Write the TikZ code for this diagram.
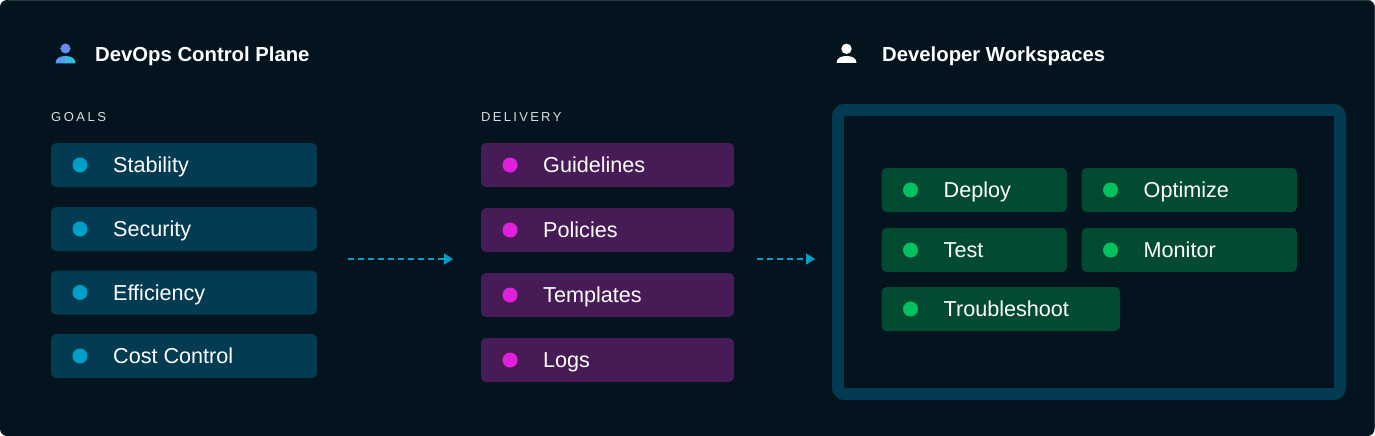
\documentclass[tikz,border=0pt]{standalone}
\usepackage{fontspec}
\setmainfont{Liberation Sans}
\usetikzlibrary{arrows.meta,calc}
\definecolor{panel}{HTML}{03141F}
\definecolor{panelline}{HTML}{2A3A45}
\definecolor{tealbox}{HTML}{033B52}
\definecolor{tealdot}{HTML}{009FC7}
\definecolor{purplebox}{HTML}{471C56}
\definecolor{purpledot}{HTML}{E020DC}
\definecolor{greenbox}{HTML}{034A33}
\definecolor{greendot}{HTML}{00C35F}
\definecolor{iconhead}{HTML}{6F86F2}
\definecolor{iconblue}{HTML}{4F9CF0}
\definecolor{iconteal}{HTML}{38BCE0}
\definecolor{labelgrey}{HTML}{D8DEE2}
\tikzset{
  x=1pt,y=-1pt,
  chipbox/.style={rounded corners=5pt,inner sep=0pt,outer sep=0pt,anchor=north west},
  chiptext/.style={anchor=base west,text=white,inner sep=0pt,font=\fontsize{21.6}{24}\selectfont},
  chipdot/.style={circle,inner sep=0pt,minimum size=15pt},
  heading/.style={anchor=base west,text=white,inner sep=0pt,font=\fontsize{20.3}{24}\selectfont\bfseries},
  smalllabel/.style={anchor=base west,text=labelgrey,inner sep=0pt,font=\fontsize{13}{16}\selectfont},
  flow/.style={draw=tealdot,line width=1.5pt,dash pattern=on 6pt off 4pt,-{Triangle[length=9pt,width=11pt,fill=tealdot]}}
}
% #1 name, #2 x, #3 y, #4 w, #5 colour, #6 text
\newcommand{\chipitem}[6]{%
  \node[chipbox,fill=#5box,minimum width=#4pt,minimum height=44pt] (#1) at (#2,#3) {};
  \node[chipdot,fill=#5dot] (#1dot) at ($(#1.west)+(29,0)$) {};
  \node[chiptext] (#1text) at ($(#1.west)+(62,7.5)$) {#6};
}
\begin{document}
\begin{tikzpicture}
\useasboundingbox (0,0) rectangle (1375,436);
\fill[white] (0,0) rectangle (1375,436);
\fill[panel,rounded corners=7pt] (0,0) rectangle (1374.5,436);
\draw[panelline,line width=1pt,rounded corners=7pt] (8,0.5) -- (1374.5,0.5) -- (1374.5,428);

% left icon
\shade[top color=iconhead,bottom color=iconblue!70!iconhead] (65.5,48.5) circle (5pt);
\fill[iconblue] (55.5,63.5) .. controls (55.5,58) and (60,56) .. (65.5,56) -- (65.5,63.5) -- cycle;
\fill[iconteal] (75.5,63.5) .. controls (75.5,58) and (71,56) .. (65.2,56) -- (65.2,63.5) -- cycle;
\node[heading] (lefthead) at (95,62) {DevOps Control Plane};

% right icon
\fill[white] (846.5,48.8) circle (5.2pt);
\fill[white] (836.5,63) .. controls (836.5,58) and (841,56) .. (846.5,56) .. controls (852,56) and (856.5,58) .. (856.5,63) -- cycle;
\node[heading] (righthead) at (882,62) {Developer Workspaces};

\node[smalllabel] (goalslabel) at (51,121) {G\hspace{2.5pt}O\hspace{2.5pt}A\hspace{2.5pt}L\hspace{2.5pt}S};
\node[smalllabel] (deliverylabel) at (481,121) {D\hspace{2.3pt}E\hspace{2.3pt}L\hspace{2.3pt}I\hspace{2.3pt}V\hspace{2.3pt}E\hspace{2.3pt}R\hspace{2.3pt}Y};

\chipitem{stability}{51}{143}{266}{teal}{Stability}
\chipitem{security}{51}{207}{266}{teal}{Security}
\chipitem{efficiency}{51}{270.5}{266}{teal}{Efficiency}
\chipitem{cost}{51}{334}{266}{teal}{Cost Control}

\chipitem{guidelines}{481}{143}{253}{purple}{Guidelines}
\chipitem{policies}{481}{208}{253}{purple}{Policies}
\chipitem{templates}{481}{273}{253}{purple}{Templates}
\chipitem{logs}{481}{338}{253}{purple}{Logs}

\node[chipbox,draw=tealbox,line width=12pt,rounded corners=6.5pt,minimum width=502pt,minimum height=284pt] (frame) at (838,110) {};

\chipitem{deploy}{881.5}{168}{185.5}{green}{Deploy}
\chipitem{optimize}{1081.5}{168}{215.5}{green}{Optimize}
\chipitem{test}{881.5}{228}{185.5}{green}{Test}
\chipitem{monitor}{1081.5}{228}{215.5}{green}{Monitor}
\chipitem{troubleshoot}{881.5}{287}{238.5}{green}{Troubleshoot}

\coordinate (a1s) at (348,259);
\coordinate (a1e) at (453,259);
\coordinate (a2s) at (757,259);
\coordinate (a2e) at (815,259);
\draw[flow] (a1s) -- (a1e);
\draw[flow] (a2s) -- (a2e);
\end{tikzpicture}
\end{document}
